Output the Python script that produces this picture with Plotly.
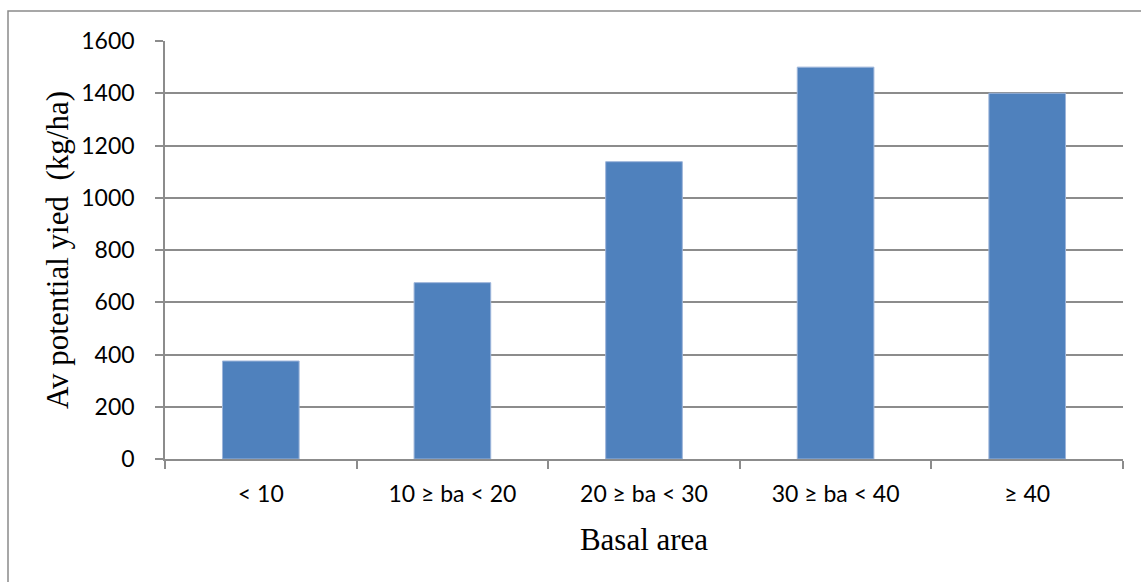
import plotly.graph_objects as go

# Basal area classes and average potential yield (kg/ha)
categories = ["< 10", "10 ≥ ba < 20", "20 ≥ ba < 30", "30 ≥ ba < 40", "≥ 40"]
yield_kg_ha = [375, 675, 1138, 1500, 1400]
y_ticks = [0, 200, 400, 600, 800, 1000, 1200, 1400, 1600]

GRID = "#8c8c8c"
BAR = "#4F81BD"
TICK_FONT = dict(family="Lato, 'Open Sans', sans-serif", size=23, color="black")
TITLE_FONT = dict(family="'Liberation Serif', 'Times New Roman', serif", size=31, color="black")

fig = go.Figure(
    go.Bar(
        x=categories,
        y=yield_kg_ha,
        marker=dict(color=BAR, line=dict(color="#9db5da", width=1)),
    )
)

fig.update_layout(
    width=1141,
    height=582,
    margin=dict(l=165, r=18, t=41, b=123),
    paper_bgcolor="white",
    plot_bgcolor="white",
    bargap=0.6,
    showlegend=False,
    shapes=[
        # chart frame (top and left edges visible)
        dict(
            type="rect", xref="paper", yref="paper",
            x0=(8 - 165) / 958, x1=1.2, y0=-0.5, y1=(459 - 11) / 418,
            line=dict(color="#8a8a8a", width=1.5), fillcolor="rgba(0,0,0,0)",
            layer="below",
        )
    ],
)

fig.update_xaxes(
    type="category",
    showgrid=False,
    showline=True,
    linecolor=GRID,
    linewidth=1.5,
    ticks="outside",
    tickson="boundaries",
    ticklen=8,
    tickwidth=1.5,
    tickcolor=GRID,
    tickfont=TICK_FONT,
    ticklabelstandoff=14,
    title=dict(text="Basal area", font=TITLE_FONT, standoff=22),
    automargin=False,
)

fig.update_yaxes(
    range=[0, 1600],
    tickvals=y_ticks,
    showgrid=True,
    gridcolor=GRID,
    gridwidth=1.5,
    zeroline=False,
    showline=True,
    linecolor=GRID,
    linewidth=1.5,
    ticks="outside",
    ticklen=8,
    tickwidth=1.5,
    tickcolor=GRID,
    tickfont=TICK_FONT,
    ticklabelstandoff=16,
    title=dict(text="Av potential yied  (kg/ha)", font=TITLE_FONT, standoff=3),
    automargin=False,
)

fig.write_html("out.html")
